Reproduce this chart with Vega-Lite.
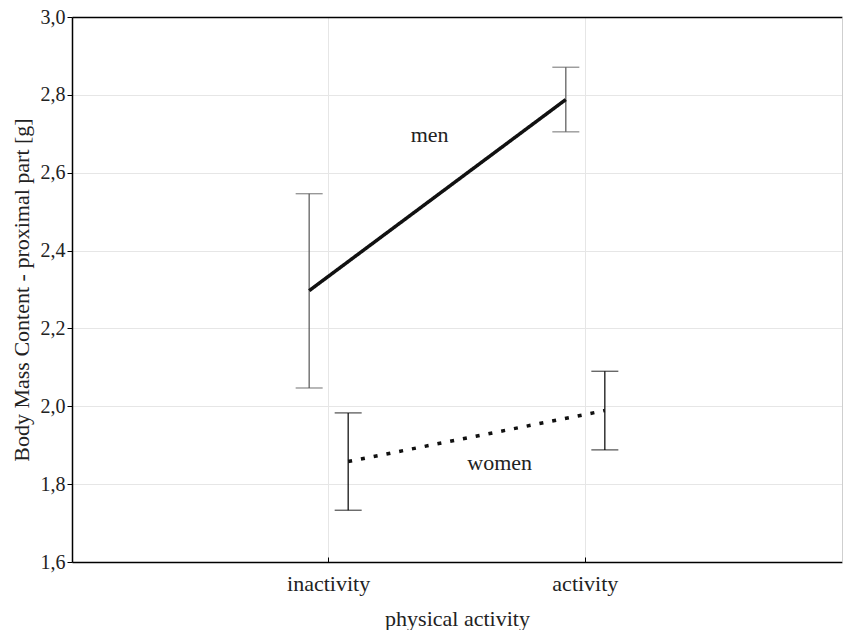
{
  "$schema": "https://vega.github.io/schema/vega-lite/v6.json",
  "width": 770,
  "height": 545,
  "autosize": {"type": "none"},
  "padding": {"left": 72, "top": 17, "right": 1, "bottom": 68},
  "config": {
    "font": "Liberation Serif",
    "view": {"stroke": null},
    "axis": {
      "labelFont": "Liberation Serif",
      "titleFont": "Liberation Serif",
      "labelFontSize": 19,
      "titleFontSize": 22,
      "labelColor": "#222",
      "titleColor": "#222",
      "titleFontWeight": "normal",
      "domainColor": "#000",
      "tickColor": "#000",
      "gridColor": "#e6e6e6",
      "gridWidth": 1
    }
  },
  "datasets": {
    "means": [
      {"activity": "inactivity", "sex": "men", "mean": 2.297, "lower": 2.047, "upper": 2.546},
      {"activity": "activity", "sex": "men", "mean": 2.788, "lower": 2.705, "upper": 2.871},
      {"activity": "inactivity", "sex": "women", "mean": 1.858, "lower": 1.733, "upper": 1.983},
      {"activity": "activity", "sex": "women", "mean": 1.989, "lower": 1.888, "upper": 2.09}
    ],
    "labels": [
      {"label": "men", "activity": "inactivity", "y": 2.697},
      {"label": "women", "activity": "inactivity", "y": 1.855}
    ]
  },
  "data": {"name": "means"},
  "resolve": {"axis": {"x": "independent", "y": "independent"}},
  "layer": [
    {
      "mark": {"type": "rule", "strokeWidth": 1.2},
      "encoding": {
        "x": {
          "field": "activity", "type": "nominal", "sort": ["inactivity", "activity"],
          "scale": {"type": "band", "paddingInner": 0.696, "paddingOuter": 0.848},
          "axis": {"title": "physical activity", "labelAngle": 0, "labelFont": "Liberation Serif", "labelFontSize": 22, "grid": true, "tickSize": -5, "labelPadding": 16, "titlePadding": 14, "domainWidth": 1.5}
        },
        "xOffset": {"field": "sex", "type": "nominal", "scale": {"domain": ["men", "women"]}},
        "y": {
          "field": "lower", "type": "quantitative",
          "scale": {"domain": [1.6, 3.0], "nice": false, "zero": false},
          "axis": {"title": "Body Mass Content - proximal part [g]", "values": [1.6, 1.8, 2.0, 2.2, 2.4, 2.6, 2.8, 3.0], "labelExpr": "replace(format(datum.value, '.1f'), '.', ',')", "labelFont": "Liberation Serif", "labelFontSize": 20, "grid": true, "tickSize": 5, "labelPadding": 2, "titlePadding": 7, "domainWidth": 1.5}
        },
        "y2": {"field": "upper"},
        "color": {"field": "sex", "type": "nominal", "scale": {"domain": ["men", "women"], "range": ["#555555", "#000000"]}, "legend": null}
      }
    },
    {
      "mark": {"type": "tick", "orient": "horizontal", "size": 27, "thickness": 1.2},
      "encoding": {
        "x": {"field": "activity", "type": "nominal", "sort": ["inactivity", "activity"], "axis": {"orient": "top", "labels": false, "ticks": false, "title": null, "grid": false, "domainColor": "#000", "domainWidth": 1.5}},
        "xOffset": {"field": "sex", "type": "nominal"},
        "y": {"field": "lower", "type": "quantitative", "axis": {"orient": "right", "labels": false, "ticks": false, "title": null, "grid": false, "domainColor": "#cfcfcf", "domainWidth": 1}},
        "color": {"field": "sex", "type": "nominal", "legend": null}
      }
    },
    {
      "mark": {"type": "tick", "orient": "horizontal", "size": 27, "thickness": 1.2},
      "encoding": {
        "x": {"field": "activity", "type": "nominal", "sort": ["inactivity", "activity"], "axis": null},
        "xOffset": {"field": "sex", "type": "nominal"},
        "y": {"field": "upper", "type": "quantitative", "axis": null},
        "color": {"field": "sex", "type": "nominal", "legend": null}
      }
    },
    {
      "mark": {"type": "line", "color": "#111", "strokeWidth": 3.5},
      "encoding": {
        "x": {"field": "activity", "type": "nominal", "sort": ["inactivity", "activity"], "axis": null},
        "xOffset": {"field": "sex", "type": "nominal"},
        "y": {"field": "mean", "type": "quantitative", "axis": null},
        "detail": {"field": "sex"},
        "strokeDash": {"field": "sex", "type": "nominal", "scale": {"domain": ["men", "women"], "range": [[1, 0], [4, 9]]}, "legend": null}
      }
    },
    {
      "data": {"name": "labels"},
      "transform": [{"filter": "datum.label == 'men'"}],
      "mark": {"type": "text", "fontSize": 22, "font": "Liberation Serif", "color": "#222", "dx": 101},
      "encoding": {
        "x": {"field": "activity", "type": "nominal", "sort": ["inactivity", "activity"], "axis": null},
        "y": {"field": "y", "type": "quantitative", "axis": null},
        "text": {"field": "label"}
      }
    },
    {
      "data": {"name": "labels"},
      "transform": [{"filter": "datum.label == 'women'"}],
      "mark": {"type": "text", "fontSize": 22, "font": "Liberation Serif", "color": "#222", "dx": 171},
      "encoding": {
        "x": {"field": "activity", "type": "nominal", "sort": ["inactivity", "activity"], "axis": null},
        "y": {"field": "y", "type": "quantitative", "axis": null},
        "text": {"field": "label"}
      }
    }
  ]
}
